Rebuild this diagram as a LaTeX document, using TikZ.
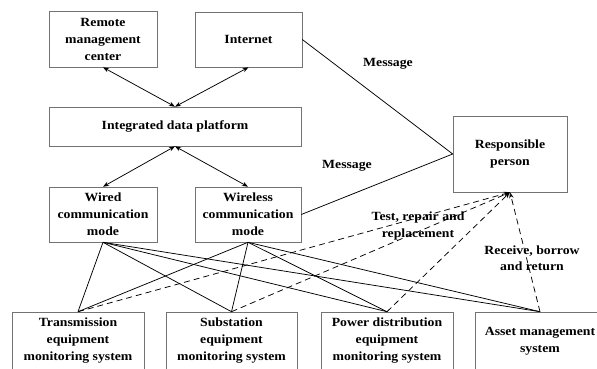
\documentclass[tikz,border=0pt]{standalone}
\usepackage{fontspec}
\setmainfont[FakeStretch=1.1]{Liberation Serif}
\usetikzlibrary{arrows.meta}
\begin{document}
\begin{tikzpicture}[x=1pt,y=-1pt,
  box/.style={draw=black!55,line width=0.6pt,align=center,inner sep=0pt,
    font=\fontsize{12.5}{17}\selectfont\bfseries},
  lbl/.style={align=center,inner sep=0pt,font=\fontsize{12.5}{16.5}\selectfont\bfseries},
  link/.style={line width=0.75pt,black},
  biarrow/.style={link,{Stealth[length=6pt,width=4.5pt]}-{Stealth[length=6pt,width=4.5pt]}},
  dlink/.style={link,dash pattern=on 6pt off 4pt,-{Stealth[length=6pt,width=4.5pt,open]}}]
\useasboundingbox[fill=white] (0,0) rectangle (597,368);
\node[box,minimum width=108pt,minimum height=56pt] (rmc) at (103,39) {Remote\\management\\center};
\node[box,minimum width=107pt,minimum height=55pt] (inet) at (248.5,39.5) {Internet};
\node[box,minimum width=252pt,minimum height=39pt] (idp) at (175,126.5) {Integrated data platform};
\node[box,minimum width=108pt,minimum height=55pt] (wired) at (103,214.5) {Wired\\communication\\mode};
\node[box,minimum width=106pt,minimum height=55pt] (wless) at (248,214.5) {Wireless\\communication\\mode};
\node[box,minimum width=114pt,minimum height=76pt] (resp) at (510,154) {Responsible\\person};
\node[box,minimum width=132pt,minimum height=58pt] (trans) at (78,341) {Transmission\\equipment\\monitoring system};
\node[box,minimum width=131pt,minimum height=58pt] (subst) at (231.5,341) {Substation\\equipment\\monitoring system};
\node[box,minimum width=132pt,minimum height=58pt] (power) at (387,341) {Power distribution\\equipment\\monitoring system};
\node[box,minimum width=130pt,minimum height=58pt] (asset) at (540,341) {Asset management\\system};
% arrows
\draw[biarrow] (rmc.south) -- (idp.north);
\draw[biarrow] (inet.south) -- (idp.north);
\draw[biarrow] (idp.south) -- (wired.north);
\draw[biarrow] (idp.south) -- (wless.north);
% message
\draw[link] (inet.east) -- (resp.west);
\draw[link] (wless.east) -- (resp.west);
\node[lbl] (m1) at (388,64) {Message};
\node[lbl] (m2) at (347,166) {Message};
% solid links
\foreach \s in {wired,wless}{
  \foreach \t in {trans,subst,power,asset}{
    \draw[link] (\s.south) -- (\t.north);
  }
}
% dashed
\foreach \t in {trans,subst,power,asset}{
  \draw[dlink] (\t.north) -- (resp.south);
}
\node[lbl] (trr) at (418,226) {Test, repair and\\replacement};
\node[lbl] (rbr) at (532,258) {Receive, borrow\\and return};
\end{tikzpicture}
\end{document}
